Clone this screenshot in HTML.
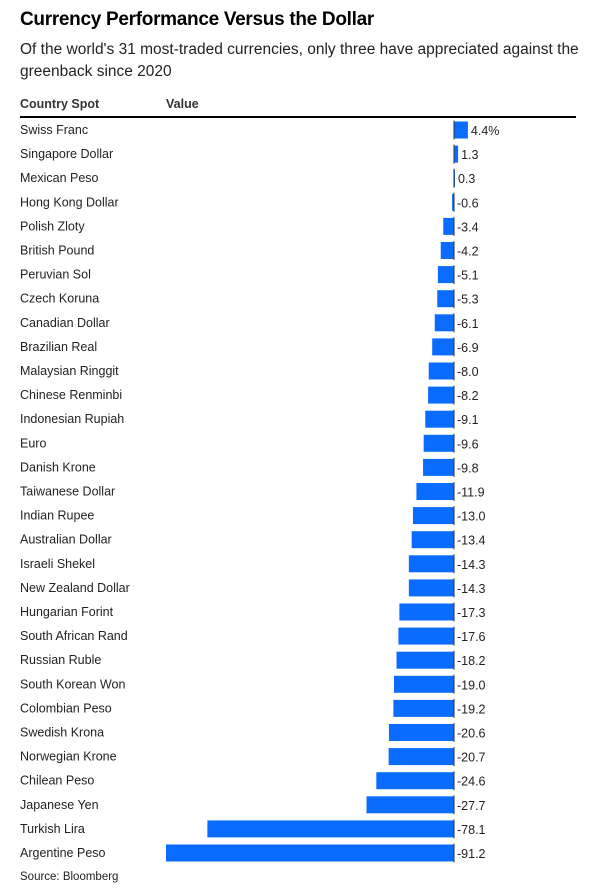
<!DOCTYPE html>
<html><head><meta charset="utf-8">
<style>
body{margin:0;background:#fff;font-family:"Liberation Sans",Arial,sans-serif;color:#1a1a1a}
#wrap{position:relative;width:601px;height:896px;overflow:hidden}
.t{position:absolute;white-space:nowrap}
</style></head>
<body><div id="wrap">
<div class="t" style="left:20px;top:9px;font-size:19px;font-weight:bold;color:#000;letter-spacing:-0.3px">Currency Performance Versus the Dollar</div>
<div class="t" style="left:20px;top:39px;font-size:15.5px;line-height:22px;color:#222;white-space:normal;width:570px">Of the world's 31 most-traded currencies, only three have appreciated against the greenback since 2020</div>
<div class="t" style="left:20px;top:97px;font-size:12.5px;font-weight:bold;color:#333">Country Spot</div>
<div class="t" style="left:166px;top:97px;font-size:12.5px;font-weight:bold;color:#333">Value</div>
<div style="position:absolute;left:20px;top:116px;width:556px;height:2px;background:#000"></div>
<div class="t" style="left:20px;top:871px;font-size:11.5px;color:#222">Source: Bloomberg</div>
<svg id="svg" width="601" height="896" style="position:absolute;left:0;top:0"></svg>
</div>
<script>
const categories=["Swiss Franc","Singapore Dollar","Mexican Peso","Hong Kong Dollar","Polish Zloty","British Pound","Peruvian Sol","Czech Koruna","Canadian Dollar","Brazilian Real","Malaysian Ringgit","Chinese Renminbi","Indonesian Rupiah","Euro","Danish Krone","Taiwanese Dollar","Indian Rupee","Australian Dollar","Israeli Shekel","New Zealand Dollar","Hungarian Forint","South African Rand","Russian Ruble","South Korean Won","Colombian Peso","Swedish Krona","Norwegian Krone","Chilean Peso","Japanese Yen","Turkish Lira","Argentine Peso"];
const values=[4.4,1.3,0.3,-0.6,-3.4,-4.2,-5.1,-5.3,-6.1,-6.9,-8.0,-8.2,-9.1,-9.6,-9.8,-11.9,-13.0,-13.4,-14.3,-14.3,-17.3,-17.6,-18.2,-19.0,-19.2,-20.6,-20.7,-24.6,-27.7,-78.1,-91.2];
const valueLabels=["4.4%","1.3","0.3","-0.6","-3.4","-4.2","-5.1","-5.3","-6.1","-6.9","-8.0","-8.2","-9.1","-9.6","-9.8","-11.9","-13.0","-13.4","-14.3","-14.3","-17.3","-17.6","-18.2","-19.0","-19.2","-20.6","-20.7","-24.6","-27.7","-78.1","-91.2"];
const NS="http://www.w3.org/2000/svg";
const svg=document.getElementById('svg');
const x0=454, k=288/91.2;
const x=v=>x0+v*k;
const y=i=>130+i*24.1;
const bh=17;
categories.forEach((c,i)=>{
  const v=values[i], cy=y(i);
  const t=document.createElementNS(NS,'text');
  
  
  t.setAttribute('x',20);t.setAttribute('y',cy+4);
  t.setAttribute('font-size','12.5');t.setAttribute('fill','#222');
  t.setAttribute('font-family','Liberation Sans, Arial, sans-serif');
  t.textContent=c;svg.appendChild(t);
  const r=document.createElementNS(NS,'rect');
  
  
  r.setAttribute('x',Math.min(x(v),x0));r.setAttribute('width',Math.max(Math.abs(x(v)-x0),1));
  r.setAttribute('y',cy-bh/2);r.setAttribute('height',bh);r.setAttribute('fill','#0a6cff');
  svg.appendChild(r);
  const l=document.createElementNS(NS,'line');
  
  
  l.setAttribute('x1',x0);l.setAttribute('x2',x0);l.setAttribute('y1',cy-bh/2-1);l.setAttribute('y2',cy+bh/2+1);
  l.setAttribute('stroke','#333');l.setAttribute('stroke-width','1');svg.appendChild(l);
  const vl=document.createElementNS(NS,'text');
  
  
  vl.setAttribute('x',Math.max(x(v),x0)+3);vl.setAttribute('y',cy+5);
  vl.setAttribute('font-size','12.5');vl.setAttribute('fill','#222');
  vl.setAttribute('font-family','Liberation Sans, Arial, sans-serif');
  vl.textContent=valueLabels[i];svg.appendChild(vl);
});
</script>
</body></html>
